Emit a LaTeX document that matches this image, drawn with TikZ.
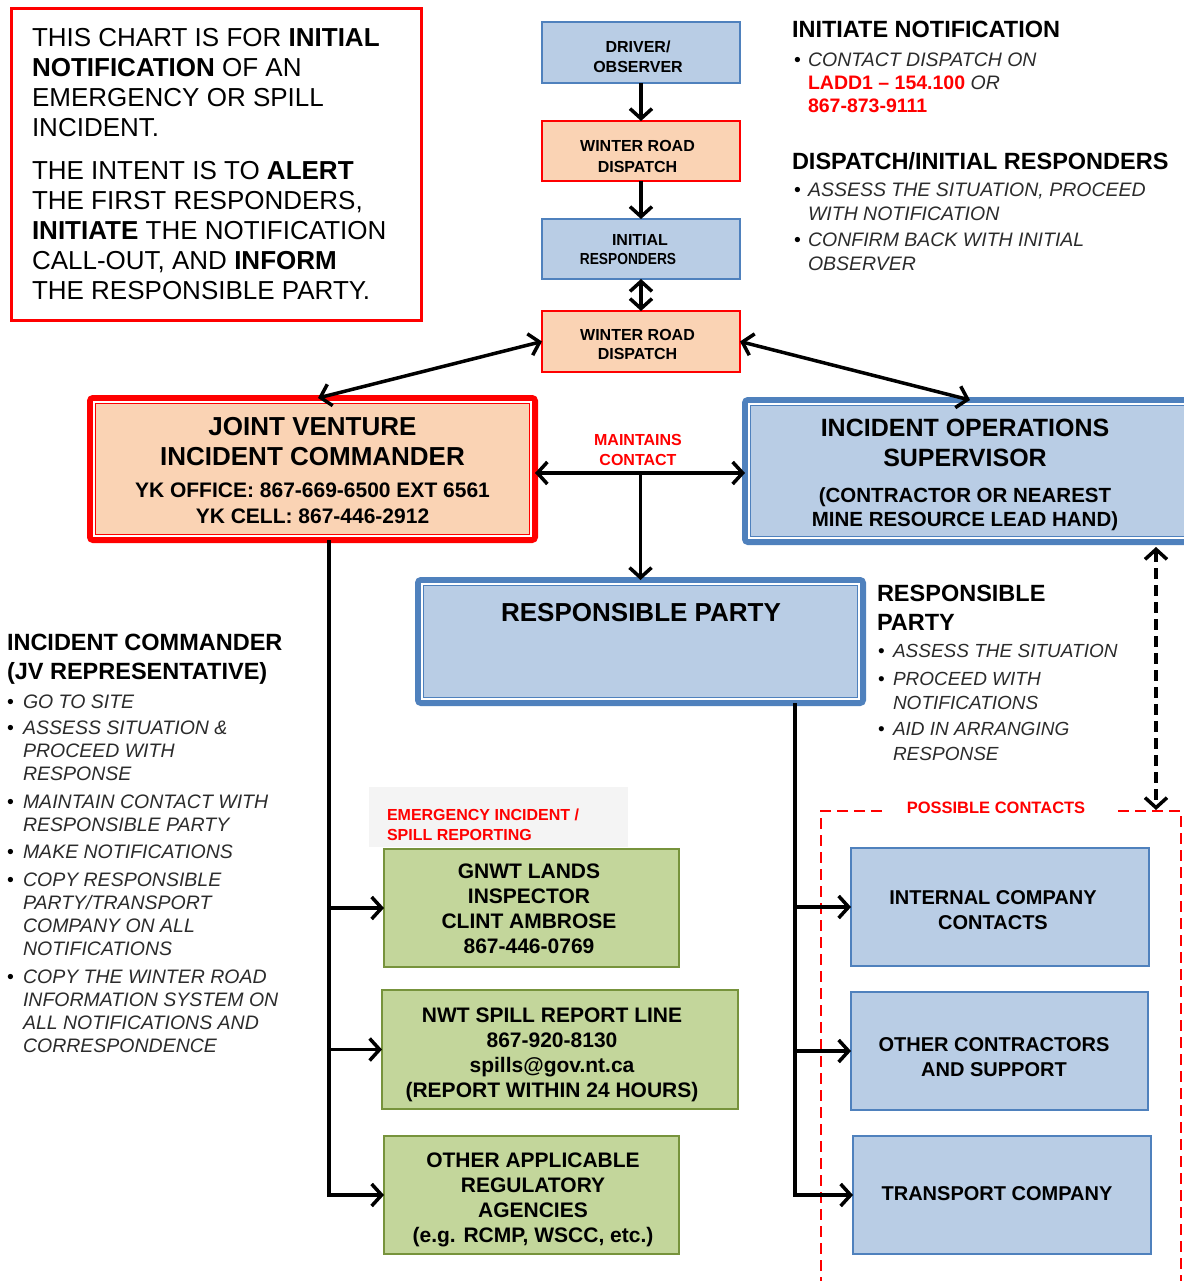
\documentclass[tikz,border=0pt]{standalone}
\usepackage{fontspec}
\setmainfont{Liberation Sans}
\usepackage{graphicx}
\usetikzlibrary{arrows.meta}

\definecolor{boxblue}{HTML}{B9CDE5}
\definecolor{edgeblue}{HTML}{4F81BD}
\definecolor{peach}{HTML}{FAD3B4}
\definecolor{boxgreen}{HTML}{C3D69B}
\definecolor{edgegreen}{HTML}{77933C}
\definecolor{alertred}{HTML}{FF0000}
\definecolor{notegray}{HTML}{2B2B2B}
\definecolor{panelgray}{HTML}{F4F4F4}

\newcommand{\fs}[2]{\fontsize{#1}{#2}\selectfont}
% bullet and hanging indent for the note lists
\newcommand{\bul}[1]{\makebox[#1][l]{\upshape\color{black}\textbullet}}
\newcommand{\ind}[1]{\hspace*{#1}}
% thin inner line of the heavy double frames
\newcommand{\innerframe}[2]{%
  \draw[white, line width=2pt] ([shift={(4,4)}]#1.north west) rectangle ([shift={(-4,-4)}]#1.south east);
  \draw[#2, line width=1.3pt] ([shift={(5.8,5.8)}]#1.north west) rectangle ([shift={(-5.8,-5.8)}]#1.south east);}

\tikzset{
  every node/.style={outer sep=0pt},
  smallbox/.style={line width=2pt, minimum width=198pt, inner sep=0pt},
  bluebox/.style={draw=edgeblue, fill=boxblue},
  peachbox/.style={draw=alertred, fill=peach},
  greenbox/.style={draw=edgegreen, fill=boxgreen, line width=2.5pt, inner sep=0pt},
  contactbox/.style={draw=edgeblue, fill=boxblue, line width=2.5pt, inner sep=0pt, minimum height=118pt},
  bigbox/.style={line width=6pt, rounded corners=3pt, inner sep=0pt},
  boxtext/.style={align=center, inner sep=0pt, font=\bfseries},
  note/.style={anchor=north west, align=left, inner sep=0pt, text=notegray},
  heading/.style={anchor=north west, align=left, inner sep=0pt, font=\bfseries},
  redlabel/.style={inner sep=0pt, text=alertred, font=\bfseries},
  tip/.tip={Straight Barb[length=10pt,width=22pt]},
  arr/.style={line width=3.5pt, -tip},
  dblarr/.style={line width=3.5pt, tip-tip},
}

\begin{document}
\begin{tikzpicture}[x=1pt,y=-1pt]
\useasboundingbox (0,0) rectangle (1183,1281);
\fill[white] (0,0) rectangle (1183,1281);

% ---- purpose statement ----
\node[draw=alertred, line width=3pt, minimum width=410pt, minimum height=312pt] (intro) at (216.5,164.5) {};
\node[anchor=north west, align=left, inner sep=0pt, font=\fs{26}{30}] (introtext) at (32,28)
  {THIS CHART IS FOR \textbf{INITIAL}\\
   \textbf{NOTIFICATION} OF AN\\
   EMERGENCY OR SPILL\\
   INCIDENT.\\[13pt]
   THE INTENT IS TO \textbf{ALERT}\\
   THE FIRST RESPONDERS,\\
   \textbf{INITIATE} THE NOTIFICATION\\
   CALL-OUT, AND \textbf{INFORM}\\
   THE RESPONSIBLE PARTY.};

% ---- first notification chain ----
\node[smallbox, bluebox, minimum height=61pt] (drv) at (641,52.5) {};
\node[boxtext, font=\bfseries\fs{16}{20}] (drvt) at (638,57) {DRIVER/\\OBSERVER};
\node[smallbox, peachbox, minimum height=60pt] (wr1) at (641,151) {};
\node[boxtext, font=\bfseries\fs{16}{21}] (wr1t) at (637.5,156.5) {WINTER ROAD\\DISPATCH};
\node[smallbox, bluebox, minimum height=60pt] (ir) at (641,249) {};
\node[boxtext, font=\bfseries\fs{16}{19}] (irt) at (628,249.5) {\hspace*{24pt}INITIAL\\\scalebox{0.86}[1]{RESPONDERS}};
\node[smallbox, peachbox, minimum height=61pt] (wr2) at (641,341.5) {};
\node[boxtext, font=\bfseries\fs{16}{19}] (wr2t) at (637.5,344.5) {WINTER ROAD\\DISPATCH};

% ---- command level ----
\node[bigbox, draw=alertred, fill=peach, minimum width=445pt, minimum height=142pt] (jv) at (312.5,469) {};
\innerframe{jv}{alertred}
\node[boxtext, font=\bfseries\fs{21}{30}] (jvt) at (312.5,471)
  {\fs{26}{30}JOINT VENTURE\\
   \fs{26}{30}INCIDENT COMMANDER\\[2pt]
   \fs{21}{26}YK OFFICE: 867-669-6500 EXT 6561\\[-4pt]
   \fs{21}{26}YK CELL: 867-446-2912};

\node[bigbox, draw=edgeblue, fill=boxblue, minimum width=447pt, minimum height=142pt] (ios) at (968.5,471) {};
\innerframe{ios}{edgeblue}
\node[boxtext, font=\bfseries\fs{21}{30}] (iost) at (965,474.5)
  {\fs{25}{30}INCIDENT OPERATIONS\\
   \fs{25}{30}SUPERVISOR\\[6pt]
   \fs{20.5}{24}(CONTRACTOR OR NEAREST\\[-6pt]
   \fs{20.5}{24}MINE RESOURCE LEAD HAND)};

\node[redlabel, align=center, font=\bfseries\fs{16}{20}] (mc) at (638,450) {MAINTAINS\\CONTACT};

\node[bigbox, draw=edgeblue, fill=boxblue, minimum width=445pt, minimum height=123pt] (rp) at (640.5,641.5) {};
\innerframe{rp}{edgeblue}
\node[boxtext, font=\bfseries\fs{26}{30}] (rpt) at (641,613) {RESPONSIBLE PARTY};

% ---- side notes ----
\node[heading, font=\bfseries\fs{23.5}{29}] (inith) at (792,21) {INITIATE NOTIFICATION};
\node[note, font=\itshape\fs{19.5}{23}] (initn) at (794,53)
  {\bul{14pt}CONTACT DISPATCH ON\\
   \ind{14pt}{\upshape\bfseries\color{alertred}LADD1 – 154.100} OR\\
   \ind{14pt}{\upshape\bfseries\color{alertred}867-873-9111}};
\node[heading, font=\bfseries\fs{23.5}{29}] (disph) at (792,152) {DISPATCH/INITIAL RESPONDERS};
\node[note, font=\itshape\fs{19.5}{24}] (dispn) at (794,183)
  {\bul{14pt}ASSESS THE SITUATION, PROCEED\\
   \ind{14pt}WITH NOTIFICATION\\[2pt]
   \bul{14pt}CONFIRM BACK WITH INITIAL\\
   \ind{14pt}OBSERVER};

\node[heading, font=\bfseries\fs{23.5}{29}] (rph) at (877,585) {RESPONSIBLE\\PARTY};
\node[note, font=\itshape\fs{19}{24.5}] (rpn) at (878,644)
  {\bul{15pt}ASSESS THE SITUATION\\[3.5pt]
   \bul{15pt}PROCEED WITH\\
   \ind{15pt}NOTIFICATIONS\\[1.5pt]
   \bul{15pt}AID IN ARRANGING\\
   \ind{15pt}RESPONSE};

\node[heading, font=\bfseries\fs{23.5}{29}] (ich) at (7,634) {INCIDENT COMMANDER\\(JV REPRESENTATIVE)};
\node[note, font=\itshape\fs{19.5}{23}] (icn) at (7,695)
  {\bul{16pt}GO TO SITE\\[3pt]
   \bul{16pt}ASSESS SITUATION \&\\
   \ind{16pt}PROCEED WITH\\
   \ind{16pt}RESPONSE\\[5pt]
   \bul{16pt}MAINTAIN CONTACT WITH\\
   \ind{16pt}RESPONSIBLE PARTY\\[4pt]
   \bul{16pt}MAKE NOTIFICATIONS\\[5pt]
   \bul{16pt}COPY RESPONSIBLE\\
   \ind{16pt}PARTY/TRANSPORT\\
   \ind{16pt}COMPANY ON ALL\\
   \ind{16pt}NOTIFICATIONS\\[5pt]
   \bul{16pt}COPY THE WINTER ROAD\\
   \ind{16pt}INFORMATION SYSTEM ON\\
   \ind{16pt}ALL NOTIFICATIONS AND\\
   \ind{16pt}CORRESPONDENCE};

% ---- regulatory reporting ----
\node[fill=panelgray, minimum width=259pt, minimum height=60pt, inner sep=0pt] (panel) at (498.5,817) {};
\node[redlabel, anchor=north west, align=left, font=\bfseries\fs{16}{20}] (panelt) at (387,809)
  {EMERGENCY INCIDENT /\\SPILL REPORTING};

\node[greenbox, minimum width=295pt, minimum height=118pt] (gn) at (531.5,908) {};
\node[boxtext, font=\bfseries\fs{21}{25}] (gnt) at (529,908.5)
  {GNWT LANDS\\INSPECTOR\\CLINT AMBROSE\\867-446-0769};
\node[greenbox, minimum width=356pt, minimum height=119pt] (nwt) at (560,1049.5) {};
\node[boxtext, font=\bfseries\fs{21}{25}] (nwtt) at (552,1055)
  {NWT SPILL REPORT LINE\\867-920-8130\\spills@gov.nt.ca\\(REPORT WITHIN 24 HOURS)};
\node[greenbox, minimum width=295pt, minimum height=118pt] (oth) at (531.5,1195) {};
\node[boxtext, font=\bfseries\fs{21}{25}] (otht) at (533,1200)
  {OTHER APPLICABLE\\REGULATORY\\AGENCIES\\(e.g. RCMP, WSCC, etc.)};

% ---- possible contacts ----
\draw[alertred, line width=2.5pt, dash pattern=on 11pt off 6pt] (882,811) -- (821,811) -- (821,1295);
\draw[alertred, line width=2.5pt, dash pattern=on 11pt off 6pt] (1118,811) -- (1181,811) -- (1181,1295);
\node[redlabel, font=\bfseries\fs{16.5}{20}] (pcl) at (996,808) {POSSIBLE CONTACTS};

\node[contactbox, minimum width=298pt] (ic) at (1000,907) {};
\node[boxtext, font=\bfseries\fs{20}{25}] (ict) at (993,910.5) {INTERNAL COMPANY\\CONTACTS};
\node[contactbox, minimum width=297pt] (oc) at (999.5,1051) {};
\node[boxtext, font=\bfseries\fs{20}{25}] (oct) at (994,1057) {OTHER CONTRACTORS\\AND SUPPORT};
\node[contactbox, minimum width=298pt] (tc) at (1002,1195) {};
\node[boxtext, font=\bfseries\fs{20}{25}] (tct) at (997,1194) {TRANSPORT COMPANY};

% ---- connectors ----
\draw[arr] (drv.south) -- (wr1.north);
\draw[arr] (wr1.south) -- (ir.north);
\draw[dblarr] (ir.south) -- (wr2.north);
\draw[dblarr] (wr2.west) -- (318,0 |- jv.north);
\draw[dblarr] (wr2.east) -- (970,0 |- ios.north);
\draw[dblarr] (jv.east |- 0,473) -- (ios.west |- 0,473);
\draw[arr] (rp.north |- 0,473) -- (rp.north);

\draw[arr] (329,0 |- jv.south) |- (oth.west);
\draw[arr] (329,0 |- gn.west) -- (gn.west);
\draw[arr] (329,0 |- nwt.west) -- (nwt.west);

\draw[arr] (795,0 |- rp.south) |- (tc.west);
\draw[arr] (795,0 |- ic.west) -- (ic.west);
\draw[arr] (795,0 |- oc.west) -- (oc.west);

\coordinate (pctop) at (1156,810);
\draw[dblarr, dash pattern=on 11pt off 6pt, shorten <=5pt] (1156,0 |- ios.south) -- (pctop);
\end{tikzpicture}
\end{document}
